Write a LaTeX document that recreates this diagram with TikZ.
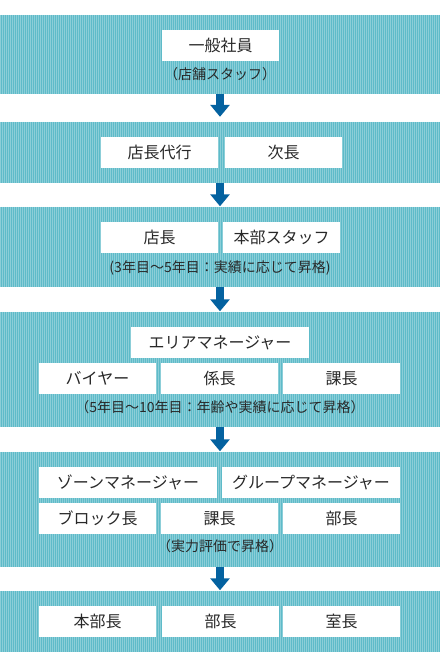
\documentclass[tikz,border=0pt]{standalone}
\usepackage{fontspec}
\setmainfont{Noto Sans CJK JP}
\usetikzlibrary{arrows.meta}
\definecolor{bandlight}{RGB}{140,206,216}
\definecolor{banddark}{RGB}{94,187,201}
\definecolor{promoblue}{RGB}{4,98,160}
\definecolor{inkgray}{RGB}{40,40,40}
\begin{document}
\begin{tikzpicture}[x=1pt, y=-1pt,
band/.style={fill=bandlight, inner sep=0, minimum width=440pt},
stripe/.style={banddark, line width=1pt},
post/.style={fill=white, inner sep=0, minimum height=31pt, text=inkgray,
  font=\fontsize{16pt}{19pt}\selectfont},
note/.style={inner sep=0, text=inkgray, font=\fontsize{14pt}{17pt}\selectfont},
promo/.style={promoblue, line width=8pt, -{Triangle[width=19pt, length=12pt]}}]

\useasboundingbox (0,0) rectangle (440,667);

%%%%%%%% BANDS %%%%%%%%%%%%%
\node[band, minimum height=79pt](b1) at (220,54.5){};
\node[band, minimum height=61pt](b2) at (220,152.5){};
\node[band, minimum height=80pt](b3) at (220,247){};
\node[band, minimum height=115pt](b4) at (220,369.5){};
\node[band, minimum height=115pt](b5) at (220,509.5){};
\node[band, minimum height=61pt](b6) at (220,621.5){};
%%%%%%%%%%%%%%%%%%%%%%%%%%%

\foreach \b in {b1,b2,b3,b4,b5,b6}{
 \foreach \s in {1,3,...,439}{
  \draw[stripe] (\s,0 |- \b.north)--(\s,0 |- \b.south);
 }
}

% step 1
\node[post, minimum width=117pt](ippan) at (220.5,45.5){一般社員};
\node[note](tenpo) at (220,74.5){（店舗スタッフ）};

% step 2
\node[post, minimum width=117pt](dairi) at (159.5,152.5){店長代行};
\node[post, minimum width=117pt](jicho) at (283.5,152.5){次長};

% step 3
\node[post, minimum width=117pt](tencho) at (159.5,237.5){店長};
\node[post, minimum width=117pt](honbustaff) at (281.5,237.5){本部スタッフ};
\node[note](nen3) at (220,267.5){(3年目〜5年目：実績に応じて昇格)};

% step 4
\node[post, minimum width=178pt](area) at (220,342.5){エリアマネージャー};
\node[post, minimum width=117pt](buyer) at (97.5,378.5){バイヤー};
\node[post, minimum width=117pt](kakari) at (219.5,378.5){係長};
\node[post, minimum width=117pt](kacho) at (341.5,378.5){課長};
\node[note](nen5) at (220,407){（5年目〜10年目：年齢や実績に応じて昇格）};

% step 5
\node[post, minimum width=178pt](zone) at (128,482.5){ゾーンマネージャー};
\node[post, minimum width=178pt](group) at (311,482.5){グループマネージャー};
\node[post, minimum width=117pt](block) at (97.5,518.5){ブロック長};
\node[post, minimum width=117pt](kacho2) at (219.5,518.5){課長};
\node[post, minimum width=117pt](bucho) at (341.5,518.5){部長};
\node[note](jitsuryoku) at (220,546){（実力評価で昇格）};

% step 6
\node[post, minimum width=117pt](honbucho) at (97.5,621.5){本部長};
\node[post, minimum width=117pt](bucho2) at (220.5,621.5){部長};
\node[post, minimum width=117pt](shitsucho) at (341.5,621.5){室長};

% arrows
\draw[promo, shorten >=5pt] (b1.south)--(b2.north);
\foreach \i/\j in {2/3,3/4,4/5,5/6}{
  \draw[promo, shorten >=0.5pt] (b\i.south)--(b\j.north);
}
\end{tikzpicture}
\end{document}
